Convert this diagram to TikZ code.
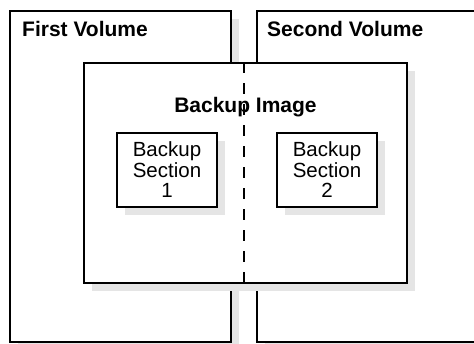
\documentclass[tikz,border=0pt]{standalone}
\usepackage{fontspec}
\setmainfont{Liberation Sans}
\usetikzlibrary{positioning,calc,shadows}
\definecolor{shadowgray}{RGB}{229,229,229}

\begin{document}
\begin{tikzpicture}[
  x=1pt,y=-1pt,
  volbox/.style={rectangle,draw,line width=2pt,fill=white,inner sep=0pt,minimum width=221pt,minimum height=331pt,
    drop shadow={shadow xshift=8pt,shadow yshift=-8pt,fill=shadowgray,opacity=1}},
  imgbox/.style={rectangle,draw,line width=2pt,fill=white,inner sep=0pt,minimum width=323pt,minimum height=220pt,
    drop shadow={shadow xshift=8pt,shadow yshift=-8pt,fill=shadowgray,opacity=1}},
  secbox/.style={rectangle,draw,line width=2pt,fill=white,inner sep=0pt,minimum width=100pt,minimum height=74pt,align=center,
    font=\fontsize{20.5}{20.5}\selectfont,
    drop shadow={shadow xshift=8pt,shadow yshift=-8pt,fill=shadowgray,opacity=1}},
  lab/.style={font=\fontsize{21}{24}\selectfont\bfseries,inner sep=0pt},
  split/.style={line width=2.2pt,dash pattern=on 11pt off 10pt},
]
\clip (0,0) rectangle (474,343);
\fill[white] (0,0) rectangle (474,343);

% === the two volumes ===
\node[volbox] (volA) at (120.5,176.5) {};
\node[volbox] (volB) at (367.5,176.5) {};
\node[lab,anchor=base west] at ($(volA.north west)+(13,26.5)$) {First Volume};
\node[lab,anchor=base west] at ($(volB.north west)+(11,26.5)$) {Second Volume};

% === backup image spanning both ===
\node[imgbox] (bimg) at (245.5,173) {};
\node[lab,anchor=base] at ($(bimg.north)+(0,50)$) {Backup Image};

\node[secbox] (sec1) at (167,170) {Backup\\Section\\1};
\node[secbox] (sec2) at (327,170) {Backup\\Section\\2};

% volume boundary
\draw[split] ([xshift=-1.5pt]bimg.north) -- ([xshift=-1.5pt]bimg.south);

\end{tikzpicture}
\end{document}
